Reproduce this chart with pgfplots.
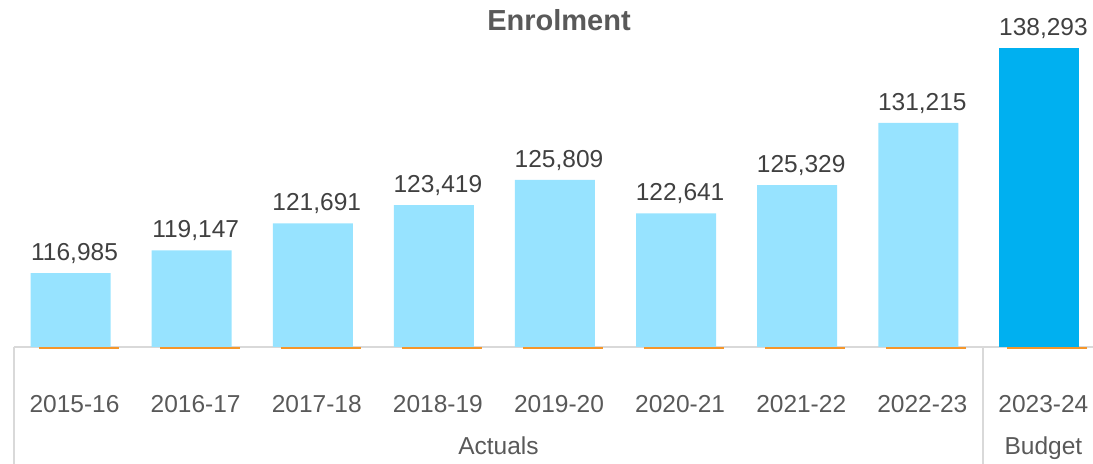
\documentclass[border=0pt]{standalone}
\usepackage{fontspec}
\setmainfont{Liberation Sans}
\usepackage{pgfplots}
\pgfplotsset{compat=1.18}
\usetikzlibrary{calc}
\definecolor{cText}{HTML}{595959}
\definecolor{cLabel}{HTML}{404040}
\definecolor{cLight}{HTML}{97E3FF}
\definecolor{cDark}{HTML}{00B0F0}
\definecolor{cOrange}{HTML}{F5962A}
\definecolor{cAxis}{HTML}{D9D9D9}

\begin{document}
\begin{tikzpicture}
\begin{axis}[
    name=ax,
    scale only axis,
    width=545pt, height=158.5pt,
    xmin=-0.5, xmax=8.5,
    ymin=110000, ymax=140000,
    axis x line*=bottom,
    axis y line=none,
    x axis line style={draw=cAxis, line width=0.8pt, -},
    xtick={0,...,8},
    xticklabels={2015-16,2016-17,2017-18,2018-19,2019-20,2020-21,2021-22,2022-23,2023-24},
    major tick length=0pt,
    xtick align=outside,
    xticklabel style={font=\fontsize{12.25}{14}\selectfont, text=cText, anchor=base, yshift=-33pt},
    extra x ticks={-0.5,7.5},
    extra x tick labels={},
    extra x tick style={major tick length=60pt, tick style={draw=cAxis, line width=0.8pt}},
    clip mode=individual,
    title={Enrolment},
    title style={font=\bfseries\fontsize{14.5}{17}\selectfont, text=cText, anchor=base, yshift=-6.5pt},
    nodes near coords,
    nodes near coords style={font=\fontsize{12.25}{14}\selectfont, text=cLabel, anchor=base,
        inner sep=0pt, yshift=6.3pt,
        /pgf/number format/.cd, fixed, precision=0, 1000 sep={,}, assume math mode=true},
]
% actuals
\addplot[ybar, bar width=40pt, bar shift=-2pt, fill=cLight, draw=none]
    coordinates {
      (0,116985) (1,119147) (2,121691) (3,123419)
      (4,125809) (5,122641) (6,125329) (7,131215)
    };
% budget
\addplot[ybar, bar width=40pt, bar shift=-2pt, fill=cDark, draw=none]
    coordinates {(8,138293)};
% orange baseline series
\addplot[only marks, mark=-, mark size=20pt, cOrange, line width=1pt,
         every mark/.append style={xshift=2pt, yshift=-0.7pt}, nodes near coords={}]
    coordinates {
      (0,110000) (1,110000) (2,110000) (3,110000) (4,110000)
      (5,110000) (6,110000) (7,110000) (8,110000)
    };
\node[font=\fontsize{12.25}{14}\selectfont, text=cText, anchor=base, inner sep=0pt, yshift=-54pt]
    at (axis cs:3.5,110000) {Actuals};
\node[font=\fontsize{12.25}{14}\selectfont, text=cText, anchor=base, inner sep=0pt, yshift=-54pt]
    at (axis cs:8,110000) {Budget};
\end{axis}
\pgfresetboundingbox
\path[use as bounding box] ($(ax.south west)+(-7pt,-58.5pt)$) rectangle ($(ax.north west)+(539.5pt,15pt)$);
\end{tikzpicture}
\end{document}
